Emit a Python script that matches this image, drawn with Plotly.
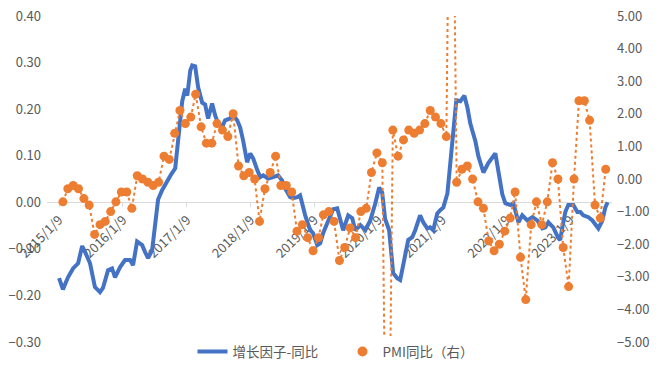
import plotly.graph_objects as go

# ---- data ----
blue_name = "增长因子-同比"
orange_name = "PMI同比（右）"

blue_dates = [
    "2015-01-09", "2015-01-31", "2015-03-01", "2015-03-30", "2015-04-28", "2015-05-21", "2015-06-07",
    "2015-07-05", "2015-08-02", "2015-08-31", "2015-09-17", "2015-10-16", "2015-11-08", "2015-11-25",
    "2015-12-24", "2016-01-21", "2016-02-19", "2016-03-07", "2016-03-30", "2016-04-28", "2016-05-15",
    "2016-06-01", "2016-06-24", "2016-07-11", "2016-07-28", "2016-08-20", "2016-09-12", "2016-10-11",
    "2016-11-03", "2016-11-20", "2016-12-13", "2016-12-30", "2017-01-11", "2017-01-28", "2017-02-08",
    "2017-02-25", "2017-03-14", "2017-04-06", "2017-04-23", "2017-05-10", "2017-06-02", "2017-06-19",
    "2017-07-06", "2017-07-29", "2017-08-15", "2017-09-13", "2017-09-30", "2017-10-23", "2017-11-09",
    "2017-11-26", "2017-12-19", "2018-01-06", "2018-01-23", "2018-02-15", "2018-03-04", "2018-03-21",
    "2018-04-18", "2018-05-17", "2018-06-14", "2018-07-07", "2018-07-24", "2018-08-22", "2018-09-08",
    "2018-10-01", "2018-10-18", "2018-11-16", "2018-12-14", "2018-12-31", "2019-01-24", "2019-02-10",
    "2019-02-27", "2019-03-22", "2019-04-08", "2019-04-25", "2019-05-18", "2019-06-10", "2019-06-21",
    "2019-07-20", "2019-08-12", "2019-08-29", "2019-09-27", "2019-10-26", "2019-11-23", "2019-12-22",
    "2020-01-13", "2020-01-30", "2020-02-16", "2020-03-10", "2020-04-02", "2020-04-25", "2020-05-12",
    "2020-06-04", "2020-06-27", "2020-07-20", "2020-08-06", "2020-09-03", "2020-09-21", "2020-10-14",
    "2020-10-31", "2020-11-17", "2020-12-10", "2020-12-27", "2021-01-14", "2021-02-06", "2021-02-23",
    "2021-03-12", "2021-03-29", "2021-04-21", "2021-05-14", "2021-05-31", "2021-06-17", "2021-07-16",
    "2021-08-02", "2021-08-31", "2021-09-28", "2021-11-07", "2021-11-24", "2021-12-17", "2022-01-03",
    "2022-02-01", "2022-02-18", "2022-03-19", "2022-04-10", "2022-05-09", "2022-06-07", "2022-07-05",
    "2022-08-03", "2022-08-20", "2022-09-06", "2022-10-04", "2022-11-02", "2022-11-13", "2022-11-25",
    "2022-12-12", "2022-12-29", "2023-01-27", "2023-02-19", "2023-03-08", "2023-03-25", "2023-04-23",
    "2023-05-16", "2023-06-19", "2023-07-12", "2023-07-29", "2023-08-11",
]
blue_vals = [
    -0.163, -0.187, -0.161, -0.142, -0.131, -0.094, -0.107,
    -0.131, -0.182, -0.193, -0.184, -0.146, -0.142, -0.161,
    -0.139, -0.124, -0.124, -0.135, -0.084, -0.092, -0.107,
    -0.120, -0.103, -0.039, 0.006, 0.026, 0.043, 0.060,
    0.073, 0.127, 0.217, 0.244, 0.229, 0.283, 0.294,
    0.292, 0.247, 0.214, 0.210, 0.180, 0.212, 0.187,
    0.169, 0.161, 0.176, 0.180, 0.187, 0.176, 0.161,
    0.133, 0.086, 0.105, 0.094, 0.069, 0.054, 0.058,
    0.051, 0.054, 0.058, 0.047, 0.030, 0.011, 0.009,
    0.011, 0.015, -0.028, -0.060, -0.066, -0.092, -0.088,
    -0.066, -0.045, -0.032, -0.015, -0.013, -0.051, -0.060,
    -0.028, -0.034, -0.060, -0.049, -0.060, -0.039, -0.002,
    0.032, 0.021, -0.036, -0.060, -0.152, -0.163, -0.167,
    -0.124, -0.081, -0.075, -0.060, -0.028, -0.043, -0.056,
    -0.054, -0.060, -0.024, -0.017, -0.011, 0.019, 0.090,
    0.148, 0.219, 0.217, 0.229, 0.204, 0.169, 0.131,
    0.099, 0.064, 0.084, 0.105, 0.066, 0.017, -0.002,
    -0.006, -0.002, -0.043, -0.028, -0.039, -0.032, -0.039,
    -0.056, -0.054, -0.043, -0.054, -0.077, -0.081, -0.054,
    -0.021, -0.006, -0.006, -0.021, -0.021, -0.028, -0.032,
    -0.039, -0.056, -0.039, -0.011, 0.000,
]

pmi_dates = [
    "2015-01-31", "2015-02-28", "2015-03-31", "2015-04-30", "2015-05-31", "2015-06-30",
    "2015-07-31", "2015-08-31", "2015-09-30", "2015-10-31", "2015-11-30", "2015-12-31",
    "2016-01-31", "2016-02-29", "2016-03-31", "2016-04-30", "2016-05-31", "2016-06-30",
    "2016-07-31", "2016-08-31", "2016-09-30", "2016-10-31", "2016-11-30", "2016-12-31",
    "2017-01-31", "2017-02-28", "2017-03-31", "2017-04-30", "2017-05-31", "2017-06-30",
    "2017-07-31", "2017-08-31", "2017-09-30", "2017-10-31", "2017-11-30", "2017-12-31",
    "2018-01-31", "2018-02-28", "2018-03-31", "2018-04-30", "2018-05-31", "2018-06-30",
    "2018-07-31", "2018-08-31", "2018-09-30", "2018-10-31", "2018-11-30", "2018-12-31",
    "2019-01-31", "2019-02-28", "2019-03-31", "2019-04-30", "2019-05-31", "2019-06-30",
    "2019-07-31", "2019-08-31", "2019-09-30", "2019-10-31", "2019-11-30", "2019-12-31",
    "2020-01-31", "2020-02-29", "2020-03-31", "2020-04-30", "2020-05-31", "2020-06-30",
    "2020-07-31", "2020-08-31", "2020-09-30", "2020-10-31", "2020-11-30", "2020-12-31",
    "2021-01-31", "2021-02-28", "2021-03-31", "2021-04-30", "2021-05-31", "2021-06-30",
    "2021-07-31", "2021-08-31", "2021-09-30", "2021-10-31", "2021-11-30", "2021-12-31",
    "2022-01-31", "2022-02-28", "2022-03-31", "2022-04-30", "2022-05-31", "2022-06-30",
    "2022-07-31", "2022-08-31", "2022-09-30", "2022-10-31", "2022-11-30", "2022-12-31",
    "2023-01-31", "2023-02-28", "2023-03-31", "2023-04-30", "2023-05-31", "2023-06-30",
    "2023-07-31",
]
pmi_vals = [
    -0.7, -0.3, -0.2, -0.3, -0.6, -0.8, -1.7, -1.4, -1.3, -1.0, -0.7, -0.4,
    -0.4, -0.9, 0.1, 0.0, -0.1, -0.2, -0.1, 0.7, 0.6, 1.4, 2.1, 1.7,
    1.9, 2.6, 1.6, 1.1, 1.1, 1.7, 1.5, 1.3, 2.0, 0.4, 0.1, 0.2,
    0.0, -1.3, -0.3, 0.2, 0.7, -0.2, -0.2, -0.4, -1.6, -1.4, -1.8, -2.2,
    -1.8, -1.1, -1.0, -1.3, -2.5, -2.1, -1.5, -1.8, -1.0, -0.9, 0.2, 0.8,
    0.5, -13.5, 1.5, 0.7, 1.2, 1.5, 1.4, 1.5, 1.7, 2.1, 1.9, 1.7,
    1.3, 14.9, -0.1, 0.3, 0.4, 0.0, -0.7, -0.9, -1.9, -2.2, -2.0, -1.6,
    -1.2, -0.4, -2.4, -3.7, -1.4, -0.7, -1.4, -0.7, 0.5, 0.0, -2.1, -3.3,
    0.0, 2.4, 2.4, 1.8, -0.8, -1.2, 0.3,
]

tick_dates = ["2015-01-09", "2016-01-09", "2017-01-09", "2018-01-09", "2019-01-09",
              "2020-01-09", "2021-01-09", "2022-01-09", "2023-01-09"]
tick_text = ["2015/1/9", "2016/1/9", "2017/1/9", "2018/1/9", "2019/1/9",
             "2020/1/9", "2021/1/9", "2022/1/9", "2023/1/9"]

left_range = [-0.3, 0.4]
right_range = [-5, 5]

BLUE = "#4472C4"
ORANGE = "#ED7D31"
TXT = "#595959"
FONT = "Noto Sans CJK SC"

fig = go.Figure()

fig.add_trace(go.Scatter(
    x=pmi_dates, y=pmi_vals, yaxis="y2", mode="lines+markers",
    line=dict(color=ORANGE, width=2, dash="dot"),
    marker=dict(color=ORANGE, size=9),
    showlegend=False, name=orange_name,
))
fig.add_trace(go.Scatter(
    x=blue_dates, y=blue_vals, mode="lines",
    line=dict(color=BLUE, width=4),
    name=blue_name,
))
fig.add_trace(go.Scatter(
    x=[None], y=[None], yaxis="y2", mode="markers",
    marker=dict(color=ORANGE, size=10), name=orange_name,
))

fig.update_layout(
    width=668, height=379,
    margin=dict(l=47, r=56, t=15.5, b=37),
    paper_bgcolor="white", plot_bgcolor="white",
    font=dict(family=FONT, size=13, color=TXT),
    xaxis=dict(
        type="date",
        range=["2014-11-01", "2023-09-05"],
        tickvals=tick_dates, ticktext=tick_text,
        tickangle=-45,
        showgrid=False, zeroline=False,
        showline=True, linecolor="#D9D9D9", linewidth=1,
        ticks="outside", ticklen=4, tickcolor="#D9D9D9",
        anchor="free", position=0.3 / 0.7,
        layer="below traces",
        tickfont=dict(size=13, color=TXT),
        automargin=False,
    ),
    yaxis=dict(
        range=left_range, dtick=0.1, tickformat=".2f",
        showgrid=False, zeroline=False, showline=False,
        tickfont=dict(size=13, color=TXT),
        ticklabelstandoff=5, ticklabeloverflow="allow",
        automargin=False,
    ),
    yaxis2=dict(
        range=right_range, dtick=1, tickformat=".2f",
        overlaying="y", side="right",
        showgrid=False, zeroline=False, showline=False,
        tickfont=dict(size=13, color=TXT),
        ticklabelstandoff=4, ticklabeloverflow="allow",
        automargin=False,
    ),
    legend=dict(
        orientation="h", x=0.523, xanchor="center", y=-0.03, yanchor="middle",
        font=dict(size=13.5, color=TXT), traceorder="normal",
        itemwidth=30, entrywidth=105, entrywidthmode="pixels",
    ),
    hovermode=False,
)

fig.write_html(
    "out.html",
    config={"displayModeBar": False, "staticPlot": True},
    post_script="document.body.style.margin='0';document.body.style.padding='0';",
)
